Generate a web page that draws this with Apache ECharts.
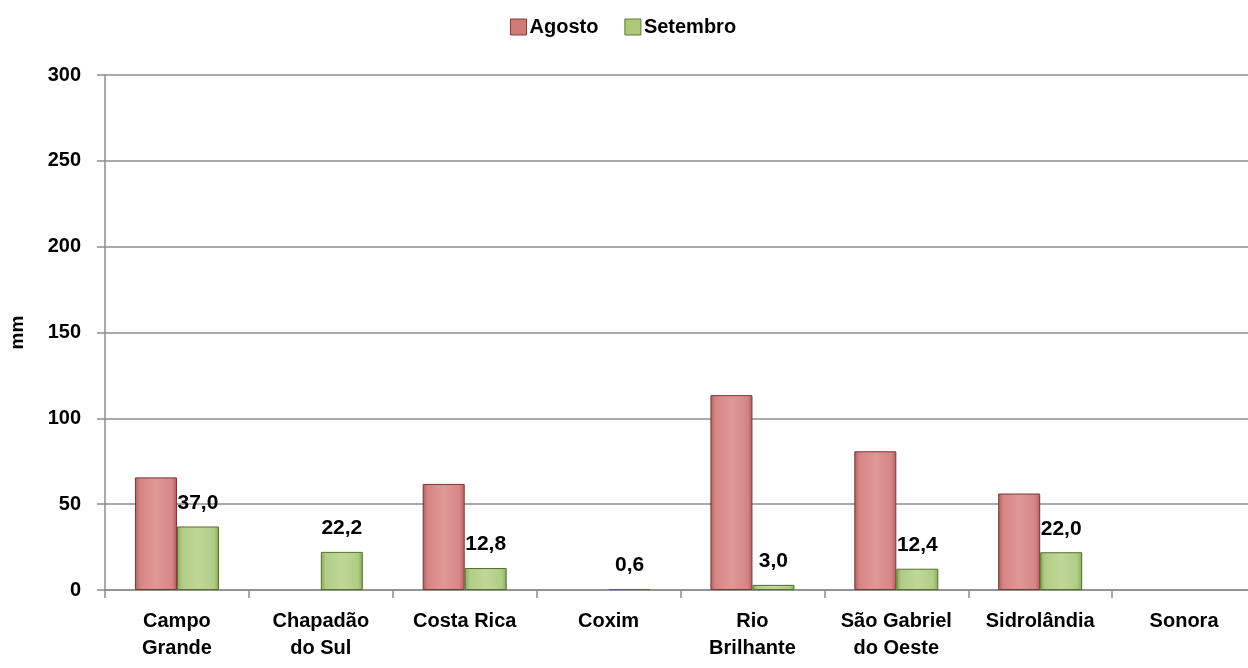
<!DOCTYPE html>
<html><head><meta charset="utf-8">
<script src="https://cdn.jsdelivr.net/npm/echarts@6/dist/echarts.min.js"></script>
<style>html,body{margin:0;padding:0;background:#fff;overflow:hidden}#c{width:1260px;height:668px}</style>
</head><body><div id="c"></div>
<script>
const categories = ["Campo\nGrande","Chapadão\ndo Sul","Costa Rica","Coxim","Rio\nBrilhante","São Gabriel\ndo Oeste","Sidrolândia","Sonora"];
const agosto = [65.6, null, 61.8, null, 113.5, 80.8, 56.2, null];
const setembro = [37.0, 22.2, 12.8, 0.6, 3.0, 12.4, 22.0, null];
const yTicks = {min:0, max:300, interval:50};

const FONT = '"Liberation Sans", "DejaVu Sans", sans-serif';
function grad(edge, mid, light){
  return new echarts.graphic.LinearGradient(0,0,1,0,[
    {offset:0,color:edge},{offset:0.12,color:mid},{offset:0.5,color:light},{offset:0.88,color:mid},{offset:1,color:edge}]);
}
const chart = echarts.init(document.getElementById('c'));
chart.setOption({
  animation:false,
  textStyle:{fontFamily:FONT},
  legend:{top:12,left:505,itemWidth:16,itemHeight:16,itemGap:26,
    textStyle:{fontFamily:FONT,fontWeight:'bold',fontSize:20,color:'#000',padding:[0,0,0,-2]},
    data:[{name:'Agosto',icon:'rect',itemStyle:{color:'#cf7a78',borderColor:'#8a3c3a',borderWidth:1}},
          {name:'Setembro',icon:'rect',itemStyle:{color:'#acc878',borderColor:'#5f7a37',borderWidth:1}}]},
  grid:{left:104,right:4,top:75,bottom:78,containLabel:false},
  xAxis:{type:'category',data:categories,
    axisLine:{lineStyle:{color:'#8c8c8c',width:1.5}},
    axisTick:{show:true,alignWithLabel:false,length:8,lineStyle:{color:'#8c8c8c',width:1.5}},
    axisLabel:{fontFamily:FONT,fontWeight:'bold',fontSize:20,color:'#000',margin:18,lineHeight:27,interval:0}},
  yAxis:{type:'value',min:yTicks.min,max:yTicks.max,interval:yTicks.interval,
    name:'mm',nameLocation:'middle',nameGap:78,nameRotate:90,
    nameTextStyle:{fontFamily:FONT,fontWeight:'bold',fontSize:19,color:'#000'},
    axisLine:{show:true,lineStyle:{color:'#8c8c8c',width:1.5}},
    axisTick:{show:true,length:8,lineStyle:{color:'#8c8c8c',width:1.5}},
    splitLine:{lineStyle:{color:'#8c8c8c',width:1.5}},
    axisLabel:{fontFamily:FONT,fontWeight:'bold',fontSize:20,color:'#000',margin:24}},
  series:[
    {name:'Agosto',type:'bar',data:agosto,barWidth:42,barGap:'0%',
     itemStyle:{color:grad('#b0605e','#d58684','#df9896'),borderColor:'#7a3432',borderWidth:1}},
    {name:'Setembro',type:'bar',data:setembro,barWidth:42,
     itemStyle:{color:grad('#8aa95a','#b1cc86','#bfd898'),borderColor:'#56702f',borderWidth:1},
     label:{show:true,position:'top',distance:13,fontFamily:FONT,fontWeight:'bold',fontSize:21,color:'#000',
       formatter:p=>p.value==null?'':p.value.toFixed(1).replace('.',',')}}
  ]
});
</script></body></html>
